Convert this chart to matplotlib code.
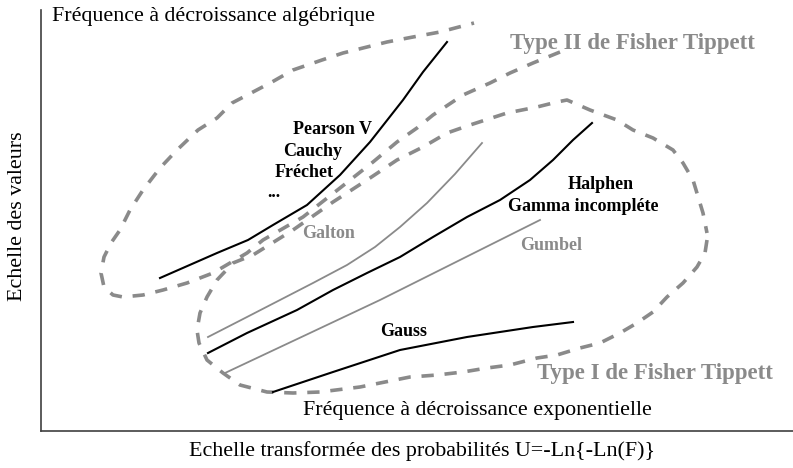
import matplotlib.pyplot as plt

plt.rcParams['font.family'] = ['Liberation Serif', 'DejaVu Serif']

# courbes (abscisse, ordonnée) dans le repère du schéma (ordonnée vers le bas)
pearson_x = [160, 217, 248, 273, 307, 340, 370, 403, 423, 447]
pearson_y = [278, 253, 240, 225, 205, 175, 142, 100, 72, 42]

galton_x = [208, 247, 280, 313, 347, 375, 400, 427, 455, 482]
galton_y = [337, 317, 300, 283, 265, 247, 227, 203, 174, 143]

halphen_x = [208, 247, 297, 333, 367, 400, 433, 467, 500, 530, 553, 573, 592]
halphen_y = [353, 333, 310, 290, 273, 257, 237, 217, 200, 180, 160, 140, 123]

gumbel_x = [225, 310, 380, 500, 540]
gumbel_y = [373, 333, 300, 240, 220]

gauss_x = [273, 333, 400, 467, 533, 573]
gauss_y = [392, 372, 350, 337, 327, 322]

# contour Type II (ouvert en haut à droite)
type2_x = [560, 533, 510, 490, 463, 433, 417, 397, 373, 340, 303, 263, 247, 213,
           187, 163, 143, 123, 113, 104, 101, 104, 111, 120, 130, 143, 160, 177,
           198, 217, 232, 253, 272, 293, 322, 343, 387, 413, 440, 474]
type2_y = [52, 63, 73, 83, 95, 115, 128, 142, 162, 188, 217, 240, 253, 273,
           283, 290, 295, 297, 295, 287, 273, 257, 243, 230, 210, 190, 168, 150,
           130, 118, 103, 92, 82, 70, 60, 53, 42, 37, 32, 23]

# contour Type I
type1_x = [707, 705, 697, 683, 667, 653, 637, 620, 600, 580, 557, 537, 510, 487,
           463, 437, 410, 380, 360, 320, 293, 267, 240, 223, 207, 199, 197, 200,
           207, 217, 233, 253, 293, 333, 370, 397, 423, 447, 470, 507, 537, 557,
           567, 590, 617, 633, 653, 673, 683, 693, 703, 707]
type1_y = [240, 253, 267, 283, 297, 312, 323, 333, 343, 348, 355, 358, 365, 368,
           372, 375, 377, 383, 387, 392, 393, 392, 385, 373, 360, 343, 330, 313,
           297, 280, 263, 255, 230, 202, 178, 160, 147, 133, 125, 113, 107, 102,
           100, 110, 120, 130, 138, 150, 163, 180, 213, 233]

gris = '#8a8a8a'
noir = '#000000'

fig = plt.figure(figsize=(7.93, 4.68), dpi=100)
ax = fig.add_axes([41 / 793, 37 / 468, 752 / 793, 421 / 468])
ax.set_xlim(41, 793)
ax.set_ylim(431, 10)

for s in ['top', 'right']:
    ax.spines[s].set_visible(False)
for s in ['left', 'bottom']:
    ax.spines[s].set_color('#404040')
    ax.spines[s].set_linewidth(1.2)
ax.set_xticks([])
ax.set_yticks([])

ax.plot(type2_x, type2_y, color=gris, lw=2.6, dashes=(3.4, 3.0), solid_capstyle='butt')
ax.plot(type1_x, type1_y, color=gris, lw=2.6, dashes=(3.4, 3.0), solid_capstyle='butt')

ax.plot(pearson_x, pearson_y, color=noir, lw=1.5)
ax.plot(halphen_x, halphen_y, color=noir, lw=1.5)
ax.plot(gauss_x, gauss_y, color=noir, lw=1.5)
ax.plot(galton_x, galton_y, color=gris, lw=1.3)
ax.plot(gumbel_x, gumbel_y, color=gris, lw=1.3)

ax.text(52, 17, 'Fréquence à décroissance algébrique', fontsize=15.8, va='center', ha='left')
ax.text(303, 410, 'Fréquence à décroissance exponentielle', fontsize=15.8, va='center', ha='left')

ax.text(510, 44, 'Type II de Fisher Tippett', fontsize=16.5, fontweight='bold',
        color=gris, va='center', ha='left')
ax.text(537, 374, 'Type I de Fisher Tippett', fontsize=16.5, fontweight='bold',
        color=gris, va='center', ha='left')

ax.text(293, 130, 'Pearson V', fontsize=13, fontweight='bold', va='center', ha='left')
ax.text(283, 152, 'Cauchy', fontsize=13, fontweight='bold', va='center', ha='left')
ax.text(275, 173, 'Fréchet', fontsize=13, fontweight='bold', va='center', ha='left')
ax.text(267, 193, '...', fontsize=13, fontweight='bold', va='center', ha='left')
ax.text(302, 234, 'Galton', fontsize=13, fontweight='bold', color=gris, va='center', ha='left')
ax.text(568, 185, 'Halphen', fontsize=13, fontweight='bold', va='center', ha='left')
ax.text(508, 207, 'Gamma incompléte', fontsize=13, fontweight='bold', va='center', ha='left')
ax.text(520, 246, 'Gumbel', fontsize=13, fontweight='bold', color=gris, va='center', ha='left')
ax.text(380, 332, 'Gauss', fontsize=13, fontweight='bold', va='center', ha='left')

fig.text(422 / 793, 1 - 451 / 468, 'Echelle transformée des probabilités U=-Ln{-Ln(F)}',
         fontsize=15.8, ha='center', va='center')
fig.text(18 / 793, 1 - 216 / 468, 'Echelle des valeurs', fontsize=15.8,
         rotation=90, ha='center', va='center')

fig.savefig('out.png', dpi=100)
